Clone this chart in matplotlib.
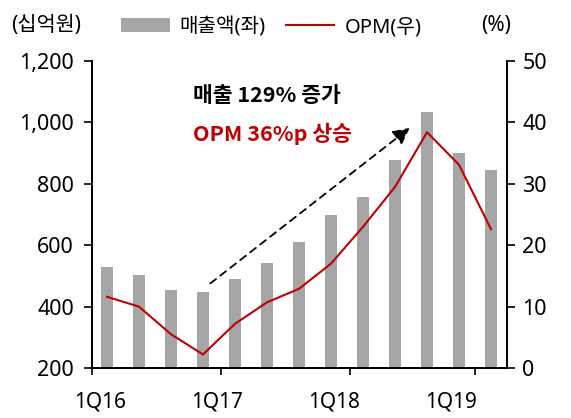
import matplotlib
matplotlib.use('agg')
import matplotlib.pyplot as plt
import numpy as np

plt.rcParams['font.family'] = ['Noto Sans', 'Noto Sans CJK KR', 'DejaVu Sans']

# 분기별 데이터 (1Q16 ~ 1Q19)
quarters = ['1Q16', '2Q16', '3Q16', '4Q16', '1Q17', '2Q17', '3Q17', '4Q17',
            '1Q18', '2Q18', '3Q18', '4Q18', '1Q19']
sales = [529, 504, 454, 446, 491, 542, 610, 699, 756, 876, 1033, 900, 844]
opm = [11.6, 10.0, 5.5, 2.2, 7.2, 10.7, 12.9, 17.0, 23.0, 29.5, 38.4, 33.1, 22.6]

xlabels = ['1Q16', '1Q17', '1Q18', '1Q19']
xlabel_pos = [-0.2, 3.45, 7.1, 10.75]
xtick_pos = [-0.47, 3.56, 7.6, 11.5]
left_ticks = [200, 400, 600, 800, 1000, 1200]
right_ticks = [0, 10, 20, 30, 40, 50]

x = np.arange(len(quarters))

fig = plt.figure(figsize=(5.71, 4.18), dpi=100)
ax = fig.add_axes([0.161, 0.1196, 0.727, 0.7344])
ax2 = ax.twinx()

bars = ax.bar(x, sales, width=0.37, color='#A6A6A6', zorder=2)
line, = ax2.plot(x, opm, color='#C00000', lw=1.5, zorder=3)

ax.set_xlim(-0.47, 12.5)
ax.set_ylim(200, 1200)
ax2.set_ylim(0, 50)

ax.set_yticks(left_ticks)
ax.set_yticklabels([f'{v:,}' for v in left_ticks], fontsize=15.5)
ax2.set_yticks(right_ticks)
ax2.set_yticklabels([str(v) for v in right_ticks], fontsize=15.5)

# x축: 눈금선은 연도 경계, 라벨은 별도 위치
ax.set_xticks(xtick_pos)
ax.set_xticklabels([])
ax.set_xticks(xlabel_pos, minor=True)
ax.set_xticklabels(xlabels, minor=True, fontsize=15)
ax.tick_params(axis='x', which='minor', length=0, pad=17)
ax.tick_params(axis='x', which='major', length=5, width=1.2, direction='out')
ax.tick_params(axis='y', length=6, width=1.2, direction='out', pad=7)
ax2.tick_params(axis='y', length=6, width=1.2, direction='out', pad=5)

for a in (ax, ax2):
    a.spines['top'].set_visible(False)
    for s in ('left', 'right', 'bottom'):
        a.spines[s].set_linewidth(1.3)

# 점선 화살표
ax.annotate('', xy=(9.53, 988), xytext=(3.16, 470),
            arrowprops=dict(arrowstyle='-|>,head_length=1.0,head_width=0.5',
                            linestyle=(0, (4, 3)), color='black', lw=1.3),
            zorder=4)

kr_bold = ['Noto Sans CJK KR', 'DejaVu Sans']
ax.text(2.7, 1087, '매출 129% 증가', fontsize=15.5, fontweight='bold',
        family=kr_bold, color='black', va='center', ha='left')
ax.text(2.7, 963, 'OPM 36%p 상승', fontsize=15.5, fontweight='bold',
        family=kr_bold, color='#C00000', va='center', ha='left')

# 상단 단위 / 범례
fig.text(0.02, 0.94, '(십억원)', fontsize=15, va='center', ha='left')
fig.text(0.843, 0.94, '(%)', fontsize=15, va='center', ha='left')
leg = fig.legend([bars, line], ['매출액(좌)', 'OPM(우)'], loc='center',
                 bbox_to_anchor=(0.475, 0.935), ncol=2, frameon=False,
                 fontsize=14.5, handlelength=2.4, handletextpad=0.5,
                 columnspacing=1.0, borderaxespad=0)

fig.savefig('out.png', dpi=100)
